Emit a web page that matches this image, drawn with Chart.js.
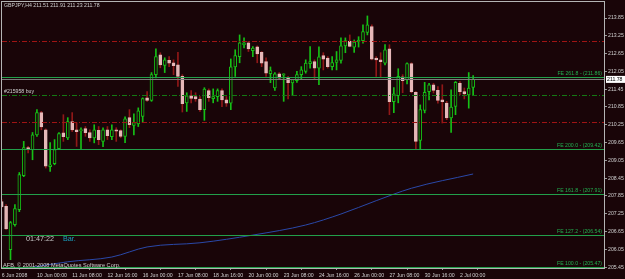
<!DOCTYPE html>
<html>
<head>
<meta charset="utf-8">
<script src="https://cdn.jsdelivr.net/npm/chart.js@4.4.0/dist/chart.umd.min.js"></script>
<style>
  html, body { margin: 0; padding: 0; background: #190508; }
  canvas { display: block; }
</style>
</head>
<body>
<canvas id="chart" width="625" height="279"></canvas>
<script>
// GBPJPY H4 candles, 6 Jun 2008 16:00 .. 2 Jul 2008 12:00
const opens = [
  207.66, 207.50, 206.04, 206.88, 207.39, 208.53, 209.48, 209.41, 209.91, 210.66,
  210.08, 208.84, 208.94, 209.44, 209.98, 209.81, 210.36, 210.08, 210.05, 210.12,
  209.99, 209.81, 210.06, 209.69, 210.08, 209.85, 210.08, 210.05, 209.86, 210.49,
  210.23, 210.28, 210.53, 211.16, 211.07, 211.94, 212.61, 212.25, 212.42, 212.34,
  212.27, 211.88, 210.99, 211.23, 211.20, 211.12, 210.76, 211.40, 211.13, 211.20,
  211.40, 211.09, 210.98, 212.20, 212.55, 212.95, 213.01, 212.75, 212.88, 212.69,
  212.38, 211.97, 211.49, 211.97, 211.92, 211.83, 211.66, 211.74, 211.94, 212.05,
  212.31, 212.38, 212.16, 212.58, 212.50, 212.21, 212.35, 212.42, 212.91, 213.06,
  212.87, 213.04, 213.09, 213.36, 213.56, 212.50, 212.44, 212.33, 212.81, 211.03,
  211.23, 211.87, 211.77, 212.31, 211.34, 209.72, 210.73, 211.37, 211.60, 211.41,
  211.09, 210.98, 210.48, 210.87, 211.65, 211.37, 211.26, 211.51
];
const highs = [
  207.73, 207.56, 206.99, 207.56, 208.64, 209.69, 209.52, 209.99, 210.76, 210.70,
  210.11, 209.65, 209.75, 209.99, 210.59, 210.49, 210.66, 210.32, 210.15, 210.19,
  210.08, 210.25, 210.19, 210.15, 210.19, 210.25, 210.15, 210.08, 210.52, 210.76,
  210.62, 210.82, 211.16, 211.37, 212.01, 212.81, 212.68, 212.51, 212.55, 212.44,
  212.69, 211.94, 211.33, 211.40, 211.33, 211.20, 211.50, 211.46, 211.46, 211.46,
  211.46, 211.20, 212.47, 212.78, 213.28, 213.18, 213.06, 212.89, 212.91, 212.72,
  212.51, 212.20, 212.01, 212.01, 211.97, 211.88, 211.77, 212.05, 212.21, 212.44,
  212.89, 212.44, 212.88, 212.68, 212.55, 212.55, 212.72, 213.18, 213.18, 213.28,
  213.11, 213.22, 213.62, 213.92, 213.62, 212.55, 212.68, 212.95, 212.95, 211.50,
  212.14, 211.94, 212.34, 212.34, 211.37, 210.92, 211.68, 211.65, 211.65, 211.54,
  211.60, 211.04, 211.43, 211.71, 211.71, 211.49, 212.01, 211.91
];
const lows = [
  207.46, 206.72, 205.70, 206.83, 207.32, 208.50, 209.30, 209.07, 209.86, 210.08,
  208.79, 208.68, 208.90, 209.41, 209.69, 209.75, 210.02, 209.52, 209.41, 209.86,
  209.69, 209.64, 209.58, 209.51, 209.75, 209.75, 209.69, 209.81, 209.65, 210.15,
  209.91, 210.19, 210.32, 211.04, 211.04, 211.83, 212.17, 212.01, 212.21, 211.94,
  211.54, 210.68, 210.70, 210.99, 211.04, 210.70, 210.40, 211.04, 210.99, 211.04,
  210.86, 210.87, 210.76, 211.88, 212.34, 212.84, 212.72, 212.55, 212.34, 212.21,
  211.88, 211.67, 211.41, 211.77, 211.04, 211.12, 211.23, 211.68, 211.77, 211.99,
  212.16, 211.77, 211.60, 212.10, 212.16, 212.10, 212.10, 212.33, 212.68, 212.88,
  212.69, 212.87, 213.00, 213.28, 212.44, 211.88, 211.87, 212.27, 210.59, 210.66,
  210.99, 211.33, 211.63, 211.33, 209.41, 209.41, 210.65, 211.09, 211.32, 210.98,
  210.31, 210.42, 209.99, 210.59, 211.26, 211.12, 210.81, 211.23
];
const closes = [
  207.49, 206.74, 206.95, 207.42, 208.57, 209.48, 209.41, 209.91, 210.66, 210.18,
  208.85, 208.90, 209.41, 209.95, 209.85, 210.36, 210.08, 210.02, 210.08, 209.98,
  209.81, 210.08, 209.75, 210.08, 209.88, 210.08, 210.03, 209.86, 210.45, 210.25,
  210.32, 210.72, 211.13, 211.07, 211.94, 212.55, 212.27, 212.44, 212.33, 212.24,
  211.88, 210.96, 211.23, 211.14, 211.12, 210.76, 211.45, 211.16, 211.20, 211.40,
  211.09, 210.98, 212.20, 212.58, 213.01, 213.01, 212.81, 212.84, 212.64, 212.33,
  211.99, 212.08, 211.97, 211.82, 211.97, 211.67, 211.77, 211.94, 212.10, 212.33,
  212.38, 212.16, 212.54, 212.46, 212.21, 212.35, 212.44, 212.91, 213.09, 212.89,
  213.04, 213.11, 213.39, 213.62, 212.46, 212.44, 212.38, 212.78, 211.03, 211.29,
  211.88, 211.74, 212.31, 211.37, 209.69, 210.76, 211.34, 211.60, 211.41, 211.07,
  211.03, 210.48, 210.85, 211.68, 211.37, 211.29, 211.49, 211.78
];

// blue indicator line, read at a few bars
const maBars = [6, 15, 25, 33, 45, 57, 69, 77, 85, 93, 107];
const maValues = [205.42, 205.63, 205.79, 206.13, 206.27, 206.53, 206.87, 207.24, 207.69, 208.11, 208.59];

// time axis labels (bar index -> text)
const timeTickBars = [0, 8, 16, 24, 32, 40, 48, 56, 64, 72, 80, 88, 96, 104];
const timeTickLabels = ['6 Jun 2008', '10 Jun 00:00', '11 Jun 08:00', '12 Jun 16:00', '16 Jun 00:00',
  '17 Jun 08:00', '18 Jun 16:00', '20 Jun 00:00', '23 Jun 08:00', '24 Jun 16:00',
  '26 Jun 00:00', '27 Jun 08:00', '30 Jun 16:00', '2 Jul 00:00'];
const priceTicks = [213.85, 213.25, 212.65, 212.05, 211.45, 210.85, 210.25, 209.65,
  209.05, 208.45, 207.85, 207.25, 206.65, 206.05, 205.45];

// objects on the chart
const feLevels = [211.86, 209.42, 207.91, 206.54, 205.47];
const feLabels = ['FE 261.8 - (211.86)', 'FE 200.0 - (209.42)', 'FE 161.8 - (207.91)',
  'FE 127.2 - (206.54)', 'FE 100.0 - (205.47)'];
const stopLevels = [213.06, 210.33];
const orderLevel = 211.24;
const orderLabel = '#215958 buy';
const bidPrice = 211.78;

const BG = '#190508';
const FONT = '"Liberation Sans", Arial, sans-serif';
const BULL = '#16c016';
const BEAR_BODY = '#e6b8b8';
const BEAR_WICK = '#901818';

const bull = opens.map((o, i) => closes[i] >= o);
const wickData = opens.map((o, i) => ({ x: i, y: [lows[i], highs[i]] }));
const bodyData = opens.map((o, i) => ({ x: i, y: [o, closes[i]] }));
const maData = maBars.map((b, i) => ({ x: b, y: maValues[i] }));

const mt4Objects = {
  id: 'mt4Objects',
  beforeDraw(chart) {
    const ctx = chart.ctx;
    ctx.save();
    ctx.fillStyle = BG;
    ctx.fillRect(0, 0, chart.width, chart.height);
    ctx.restore();
  },
  afterDatasetsDraw(chart) {
    const { ctx, chartArea: a, scales: { y } } = chart;
    const hline = (v, color, dash) => {
      const py = Math.round(y.getPixelForValue(v)) + 0.5;
      ctx.strokeStyle = color;
      ctx.setLineDash(dash);
      ctx.beginPath();
      ctx.moveTo(a.left, py);
      ctx.lineTo(a.right, py);
      ctx.stroke();
      return py;
    };
    ctx.save();
    ctx.lineWidth = 1;
    stopLevels.forEach(v => hline(v, '#a01414', [5, 2, 1, 2]));
    hline(orderLevel, '#137a13', [5, 2, 1, 2]);
    hline(bidPrice, '#7a7a7a', []);
    ctx.font = '5.2px ' + FONT;
    ctx.textAlign = 'right';
    ctx.textBaseline = 'bottom';
    feLevels.forEach((v, i) => {
      const py = hline(v, '#22a04a', []);
      ctx.fillStyle = '#22b050';
      ctx.fillText(feLabels[i], a.right - 2, py - 1);
    });
    ctx.restore();
  },
  afterDraw(chart) {
    const { ctx, chartArea: a, scales: { y } } = chart;
    ctx.save();
    // frame
    ctx.strokeStyle = '#b4b4b4';
    ctx.lineWidth = 1;
    ctx.strokeRect(a.left - 0.5, a.top - 0.5, a.right - a.left + 1, a.bottom - a.top + 1);
    // bid price box
    const py = y.getPixelForValue(bidPrice);
    ctx.fillStyle = '#ffffff';
    ctx.fillRect(a.right + 2, py - 3.5, 19, 7);
    ctx.fillStyle = '#000000';
    ctx.font = '5.2px ' + FONT;
    ctx.textAlign = 'left';
    ctx.textBaseline = 'middle';
    ctx.fillText(bidPrice.toFixed(2), a.right + 3, py);
    // texts
    ctx.fillStyle = '#d0d0d0';
    ctx.fillText('GBPJPY,H4 ' + [opens[107], highs[107], lows[107], closes[107]].map(v => v.toFixed(2)).join(' '), 4, 6);
    ctx.fillText(orderLabel, 4, y.getPixelForValue(orderLevel) - 3.5);
    ctx.font = '5.6px ' + FONT;
    ctx.fillText('AFB, \u00a9 2001-2008 MetaQuotes Software Corp.', 3, 265);
    ctx.font = '7.2px ' + FONT;
    ctx.fillStyle = '#c8c8c8';
    ctx.fillText('01:47:22', 26, 239.5);
    ctx.fillStyle = '#1aa0c0';
    ctx.fillText('Bar.', 63, 239.5);
    ctx.restore();
  }
};

new Chart(document.getElementById('chart'), {
  type: 'bar',
  data: {
    datasets: [
      {
        data: bodyData,
        order: 1,
        grouped: false,
        barThickness: 3,
        minBarLength: 1,
        borderWidth: 1,
        borderSkipped: false,
        backgroundColor: bull.map(b => b ? BG : BEAR_BODY),
        borderColor: bull.map(b => b ? BULL : BEAR_BODY)
      },
      {
        data: wickData,
        order: 2,
        grouped: false,
        barThickness: 1,
        borderWidth: 0,
        backgroundColor: bull.map(b => b ? BULL : BEAR_WICK)
      },
      {
        type: 'line',
        data: maData,
        order: 3,
        borderColor: '#2a48a8',
        borderWidth: 1,
        pointRadius: 0,
        cubicInterpolationMode: 'monotone'
      }
    ]
  },
  options: {
    responsive: false,
    animation: false,
    devicePixelRatio: 1,
    layout: { padding: { left: 2, top: 2, right: 0, bottom: 0 } },
    plugins: { legend: { display: false }, tooltip: { enabled: false } },
    scales: {
      x: {
        type: 'linear',
        min: 0.07,
        max: 136.7,
        offset: false,
        border: { display: false },
        grid: { drawOnChartArea: false, tickLength: 2, color: '#9a9a9a' },
        afterBuildTicks: s => { s.ticks = timeTickBars.map(v => ({ value: v })); },
        afterFit: s => { s.height = 11; s.paddingLeft = 0; s.paddingRight = 0; },
        ticks: {
          autoSkip: false,
          maxRotation: 0,
          align: 'start',
          padding: 2.5,
          color: '#d0d0d0',
          font: { family: FONT, size: 5.2 },
          callback: v => timeTickLabels[timeTickBars.indexOf(v)]
        }
      },
      y: {
        position: 'right',
        min: 205.42,
        max: 214.39,
        border: { display: false },
        grid: { drawOnChartArea: false, tickLength: 3, color: '#9a9a9a' },
        afterBuildTicks: s => { s.ticks = priceTicks.map(v => ({ value: v })); },
        afterFit: s => { s.width = 21; s.paddingTop = 0; s.paddingBottom = 0; },
        ticks: {
          padding: 1,
          color: '#d0d0d0',
          font: { family: FONT, size: 5.2 },
          callback: v => v.toFixed(2)
        }
      }
    }
  },
  plugins: [mt4Objects]
});
</script>
</body>
</html>
